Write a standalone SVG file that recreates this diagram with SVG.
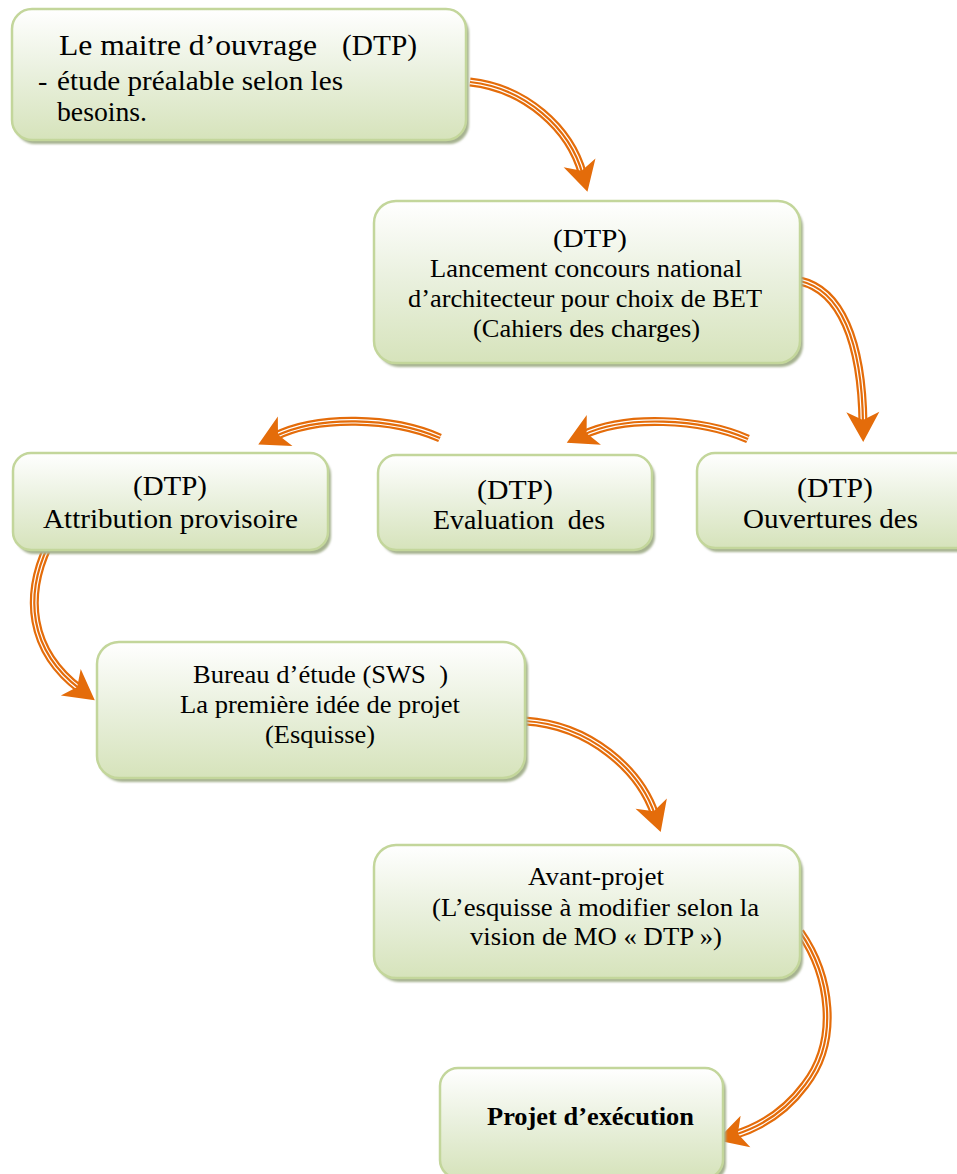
<svg xmlns="http://www.w3.org/2000/svg" width="957" height="1174" viewBox="0 0 957 1174">
  <style>
    .box { fill: url(#boxFill); stroke: #c3d69b; stroke-width: 2.5; }
    .shadow { fill: #a6b290; filter: url(#soft); }
    .t { font-family: "Liberation Serif", Tinos, "Times New Roman", "DejaVu Serif", serif; fill: #000; }
    .s25 { font-size: 25px; }
    .s28 { font-size: 28px; }
    .s30 { font-size: 30px; }
    .bold { font-weight: bold; }
    .band-o { fill: none; stroke: #e46c0a; stroke-width: 9; }
    .band-w { fill: none; stroke: #ffffff; stroke-width: 4.6; }
    .band-c { fill: none; stroke: #e46c0a; stroke-width: 2.2; marker-end: url(#head); }
  </style>
  <defs>
    <linearGradient id="boxFill" x1="0" y1="0" x2="0" y2="1">
      <stop offset="0" stop-color="#ffffff"/>
      <stop offset="0.5" stop-color="#e9f0dd"/>
      <stop offset="1" stop-color="#d6e3bb"/>
    </linearGradient>
    <filter id="soft" x="-5%" y="-5%" width="110%" height="110%">
      <feGaussianBlur stdDeviation="1"/>
    </filter>
    <marker id="head" markerUnits="userSpaceOnUse" viewBox="-32 -18 34 36" refX="-18" refY="0" markerWidth="34" markerHeight="36" orient="auto">
      <path d="M0,0 L-30,-16.5 L-22,0 L-30,16.5 Z" fill="#e46c0a"/>
    </marker>
    <!-- connector centre lines -->
    <path id="c1" d="M470,82 C525,88 570,128 582.7,174.5"/>
    <path id="c2" d="M800,281 C840,290 862,340 863,424"/>
    <path id="c3" d="M748,439 C700,418 625,415 583,435"/>
    <path id="c4" d="M440,438 C392,417 318,415 274.4,436.6"/>
    <path id="c5" d="M48,546 C25,595 28,650 80.4,689.4"/>
    <path id="c6" d="M525,721 C590,725 640,770 655,815"/>
    <path id="c7" d="M800,932 C830,975 840,1040 805,1085 C785,1112 760,1127 734,1135"/>
  </defs>

  <rect width="957" height="1174" fill="#ffffff"/>

  <g id="connectors">
    <use href="#c1" class="band-o"/><use href="#c1" class="band-w"/><use href="#c1" class="band-c"/>
    <use href="#c2" class="band-o"/><use href="#c2" class="band-w"/><use href="#c2" class="band-c"/>
    <use href="#c3" class="band-o"/><use href="#c3" class="band-w"/><use href="#c3" class="band-c"/>
    <use href="#c4" class="band-o"/><use href="#c4" class="band-w"/><use href="#c4" class="band-c"/>
    <use href="#c5" class="band-o"/><use href="#c5" class="band-w"/><use href="#c5" class="band-c"/>
    <use href="#c6" class="band-o"/><use href="#c6" class="band-w"/><use href="#c6" class="band-c"/>
    <use href="#c7" class="band-o"/><use href="#c7" class="band-w"/><use href="#c7" class="band-c"/>
  </g>

  <g id="maitre-ouvrage">
    <rect class="shadow" x="15" y="13" width="454" height="131" rx="20"/>
    <rect class="box" x="12" y="9" width="454" height="131" rx="20"/>
    <text class="t s30" x="59" y="55" textLength="258" lengthAdjust="spacingAndGlyphs">Le maitre d’ouvrage</text>
    <text class="t s30" x="342" y="55" textLength="75" lengthAdjust="spacingAndGlyphs">(DTP)</text>
    <text class="t s28" x="38" y="90">-</text>
    <text class="t s28" x="57" y="90" textLength="286" lengthAdjust="spacingAndGlyphs">étude préalable selon les</text>
    <text class="t s28" x="57" y="121" textLength="90" lengthAdjust="spacingAndGlyphs">besoins.</text>
  </g>

  <g id="concours">
    <rect class="shadow" x="377" y="205" width="426" height="162" rx="22"/>
    <rect class="box" x="374" y="201" width="426" height="162" rx="22"/>
    <text class="t s25" x="553" y="247" textLength="74" lengthAdjust="spacingAndGlyphs">(DTP)</text>
    <text class="t s25" x="430" y="277" textLength="312" lengthAdjust="spacingAndGlyphs">Lancement concours national</text>
    <text class="t s25" x="408" y="307" textLength="354" lengthAdjust="spacingAndGlyphs">d’architecteur pour choix de BET</text>
    <text class="t s25" x="473" y="337" textLength="227" lengthAdjust="spacingAndGlyphs">(Cahiers des charges)</text>
  </g>

  <g id="attribution">
    <rect class="shadow" x="16" y="457" width="315" height="97" rx="18"/>
    <rect class="box" x="13" y="453" width="315" height="97" rx="18"/>
    <text class="t s28" x="133" y="495" textLength="74" lengthAdjust="spacingAndGlyphs">(DTP)</text>
    <text class="t s28" x="43" y="528" textLength="255" lengthAdjust="spacingAndGlyphs">Attribution provisoire</text>
  </g>

  <g id="evaluation">
    <rect class="shadow" x="381" y="459" width="274" height="95" rx="18"/>
    <rect class="box" x="378" y="455" width="274" height="95" rx="18"/>
    <text class="t s28" x="477" y="499" textLength="76" lengthAdjust="spacingAndGlyphs">(DTP)</text>
    <text class="t s28" x="433" y="529" textLength="172" lengthAdjust="spacingAndGlyphs" xml:space="preserve">Evaluation  des</text>
  </g>

  <g id="ouvertures">
    <rect class="shadow" x="700" y="457" width="276" height="95" rx="18"/>
    <rect class="box" x="697" y="453" width="276" height="95" rx="18"/>
    <text class="t s28" x="797" y="497" textLength="76" lengthAdjust="spacingAndGlyphs">(DTP)</text>
    <text class="t s28" x="743" y="528" textLength="175" lengthAdjust="spacingAndGlyphs">Ouvertures des</text>
  </g>

  <g id="bureau-etude">
    <rect class="shadow" x="100" y="646" width="428" height="136" rx="22"/>
    <rect class="box" x="97" y="642" width="428" height="136" rx="22"/>
    <text class="t s25" x="193" y="683" textLength="255" lengthAdjust="spacingAndGlyphs" xml:space="preserve">Bureau d’étude (SWS  )</text>
    <text class="t s25" x="180" y="713" textLength="280" lengthAdjust="spacingAndGlyphs">La première idée de projet</text>
    <text class="t s25" x="265" y="743" textLength="110" lengthAdjust="spacingAndGlyphs">(Esquisse)</text>
  </g>

  <g id="avant-projet">
    <rect class="shadow" x="377" y="849" width="426" height="133" rx="22"/>
    <rect class="box" x="374" y="845" width="426" height="133" rx="22"/>
    <text class="t s25" x="528" y="885" textLength="136" lengthAdjust="spacingAndGlyphs">Avant-projet</text>
    <text class="t s25" x="432" y="916" textLength="327" lengthAdjust="spacingAndGlyphs">(L’esquisse à modifier selon la</text>
    <text class="t s25" x="470" y="945" textLength="252" lengthAdjust="spacingAndGlyphs">vision de MO « DTP »)</text>
  </g>

  <g id="projet-execution">
    <rect class="shadow" x="443" y="1072" width="283" height="110" rx="18"/>
    <rect class="box" x="440" y="1068" width="283" height="110" rx="18"/>
    <text class="t s25 bold" x="487" y="1125" textLength="207" lengthAdjust="spacingAndGlyphs">Projet d’exécution</text>
  </g>
</svg>
